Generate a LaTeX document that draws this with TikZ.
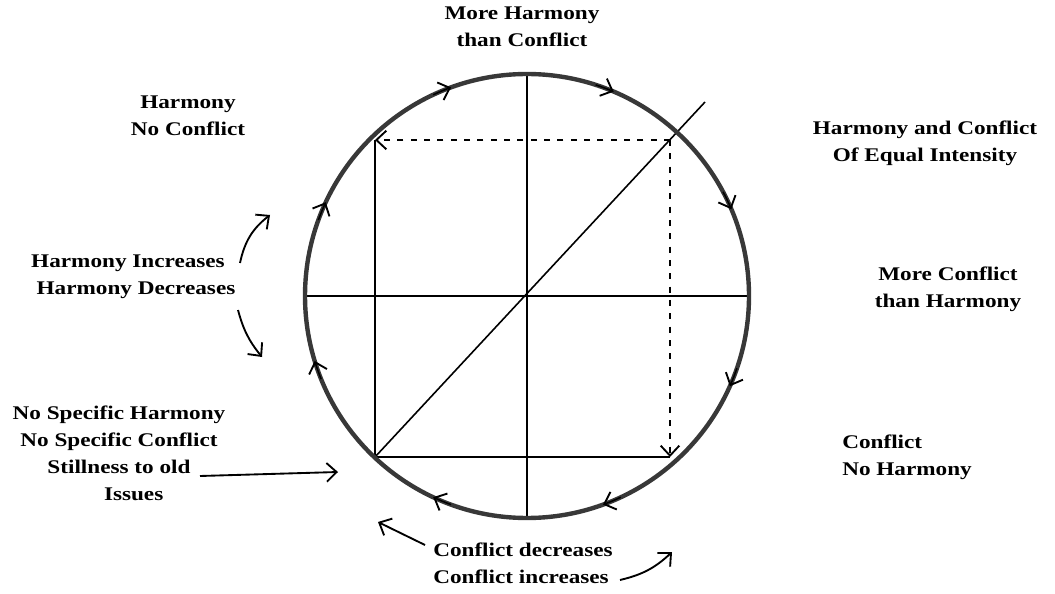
\documentclass[tikz,border=0pt]{standalone}
\usepackage{fontspec}
\setmainfont{Liberation Serif}[FakeStretch=1.2]
\usetikzlibrary{arrows.meta}

\tikzset{
  lbl/.style={font=\fontsize{14.5}{20.25}\selectfont\bfseries, inner sep=0pt, anchor=base},
  gridline/.style={line width=1.2pt},
  dashline/.style={dash pattern=on 4.5pt off 5.5pt},
  barb/.style={-{Straight Barb[length=7.5pt, width=14pt, line width=1.4pt]}},
  hand/.style={line width=1.4pt, barb},
}

\begin{document}
\begin{tikzpicture}[x=0.75pt, y=0.75pt]
    \useasboundingbox (0,0) rectangle (1055,593);
    \def\r{222}

    % circle and its points
    \coordinate (c) at (527,297);
    \coordinate (W) at (305,297);
    \coordinate (E) at (749,297);
    \coordinate (N) at (527,519);
    \coordinate (S) at (527,75);
    \coordinate (TL) at (375,453);
    \coordinate (BL) at (375,136);
    \coordinate (BR) at (670,136);
    \coordinate (TR) at (670,453);
    \coordinate (D) at (705,491);

    % inner lines
    \draw[gridline] (W) -- (E);
    \draw[gridline] (N) -- (S);
    \draw[gridline] (BL) -- (TL);
    \draw[gridline] (BL) -- (BR);
    \draw[gridline] (BL) -- (D);
    \draw[gridline, dashline, barb] (TR) -- (TL);
    \draw[gridline, dashline, barb] (TR) -- (BR);

    % the circle, clockwise arrows
    \draw[line width=3.3pt, black!78] (c) circle[radius=\r];
    \foreach \a in {110,67,23,-24,-70,-115,-163,155}
        \draw[barb, line width=1.1pt] (c) ++(\a+5:\r) arc[start angle=\a+5, end angle=\a, radius=\r];

    % labels
    \node[lbl, align=center] (top) at (522,546) {More Harmony\\than Conflict};
    \node[lbl, align=center] (hnc) at (188,457) {Harmony\\No Conflict};
    \node[lbl, align=center] (equal) at (925,431) {Harmony and Conflict\\Of Equal Intensity};
    \node[lbl, align=center] (hid) at (128,298) {Harmony Increases\\\hspace*{12pt}Harmony Decreases};
    \node[lbl, align=center] (mch) at (948,286) {More Conflict\\than Harmony};
    \node[lbl, align=center] (still) at (119,93) {No Specific Harmony\\No Specific Conflict\\Stillness to old\\\hspace*{22pt}Issues};
    \node[lbl, align=left, anchor=base west] (cnh) at (842,118) {Conflict\\No Harmony};
    \node[lbl, align=left, anchor=base west] (cdi) at (433,10) {Conflict decreases\\Conflict increases};

    % hand drawn arrows
    \coordinate (up0) at (240,330);
    \coordinate (up1) at (270,378);
    \coordinate (dn0) at (238,283);
    \coordinate (dn1) at (262,236);
    \coordinate (st0) at (200,117);
    \coordinate (st1) at (338,121);
    \coordinate (cd0) at (425,48);
    \coordinate (cd1) at (378,71);
    \coordinate (ci0) at (620,13);
    \coordinate (ci1) at (672,41);
    \draw[hand] (up0) to[bend left=20] (up1);
    \draw[hand] (dn0) to[bend right=12] (dn1);
    \draw[hand] (st0) -- (st1);
    \draw[hand] (cd0) -- (cd1);
    \draw[hand] (ci0) to[bend right=15] (ci1);

\end{tikzpicture}
\end{document}
